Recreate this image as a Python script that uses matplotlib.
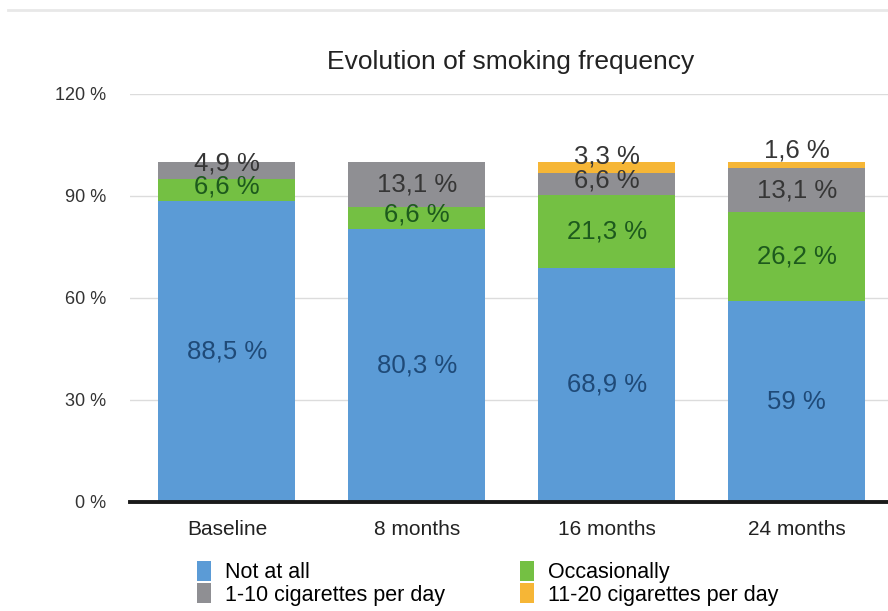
import matplotlib.pyplot as plt
import numpy as np
from matplotlib.lines import Line2D

plt.rcParams['font.family'] = ['Liberation Sans', 'DejaVu Sans']

# smoking frequency per follow-up point (percent of participants)
periods = ['Baseline', '8 months', '16 months', '24 months']
not_at_all = [88.5, 80.3, 68.9, 59]
occasionally = [6.6, 6.6, 21.3, 26.2]
cig_1_10 = [4.9, 13.1, 6.6, 13.1]
cig_11_20 = [0, 0, 3.3, 1.6]

series_names = ['Not at all', 'Occasionally', '1-10 cigarettes per day', '11-20 cigarettes per day']
yticks = [0, 30, 60, 90, 120]

colors = ['#5b9bd6', '#74c043', '#8f8f93', '#f6b636']
text_colors = ['#1f4a78', '#1d5a1d', '#363636', '#363636']


def fmt(v):
    return ('%g' % v).replace('.', ',') + ' %'


fig = plt.figure(figsize=(8.88, 6.11), dpi=100)
ax = fig.add_axes([0.1464, 0.1784, 0.8536, 0.6678])

x = np.arange(len(periods))
bottom = np.zeros(len(periods))
handles = []
for vals, name, c, tc in zip([not_at_all, occasionally, cig_1_10, cig_11_20],
                             series_names, colors, text_colors):
    vals = np.array(vals, dtype=float)
    b = ax.bar(x, vals, width=0.72, bottom=bottom, color=c, zorder=2, label=name)
    handles.append(b)
    for xi, v, b0 in zip(x, vals, bottom):
        if v <= 0:
            continue
        yc = b0 + v / 2
        # thin segments: push the label up so neighbours don't collide
        if v < 8:
            yc += (8 - v) * 0.65
        ax.text(xi, yc, fmt(v), ha='center', va='center', fontsize=18.5,
                color=tc, zorder=3)
    bottom += vals

ax.set_xlim(-0.51, 3.48)
ax.set_ylim(0, 120)
ax.set_yticks(yticks)
ax.set_yticklabels(['%d %%' % t for t in yticks], fontsize=13, color='#333333')
ax.set_xticks(x)
ax.set_xticklabels(periods, fontsize=15, color='#222222')
ax.tick_params(axis='both', length=0)
ax.tick_params(axis='y', pad=17)
ax.tick_params(axis='x', pad=13)
for s in ax.spines.values():
    s.set_visible(False)
ax.grid(axis='y', color='#dcdcdc', lw=1, zorder=0)
ax.axhline(0, color='#1a1a1a', lw=2.8, zorder=4, clip_on=False)

fig.text(0.575, 0.899, 'Evolution of smoking frequency', ha='center', va='center',
         fontsize=19, color='#222222')

# thin rule across the top of the figure
fig.add_artist(Line2D([0.009, 1.0], [0.984, 0.984], color='#e8e8e8', lw=2,
                      transform=fig.transFigure))

order = [0, 2, 1, 3]
fig.legend([handles[i] for i in order], [series_names[i] for i in order],
           ncol=2, loc='upper left', bbox_to_anchor=(0.222, 0.082),
           frameon=False, fontsize=15.5, handlelength=0.65, handleheight=1.05,
           handletextpad=0.65, columnspacing=3.5, labelspacing=0.0,
           borderpad=0, borderaxespad=0)

fig.savefig('out.png', dpi=100)
